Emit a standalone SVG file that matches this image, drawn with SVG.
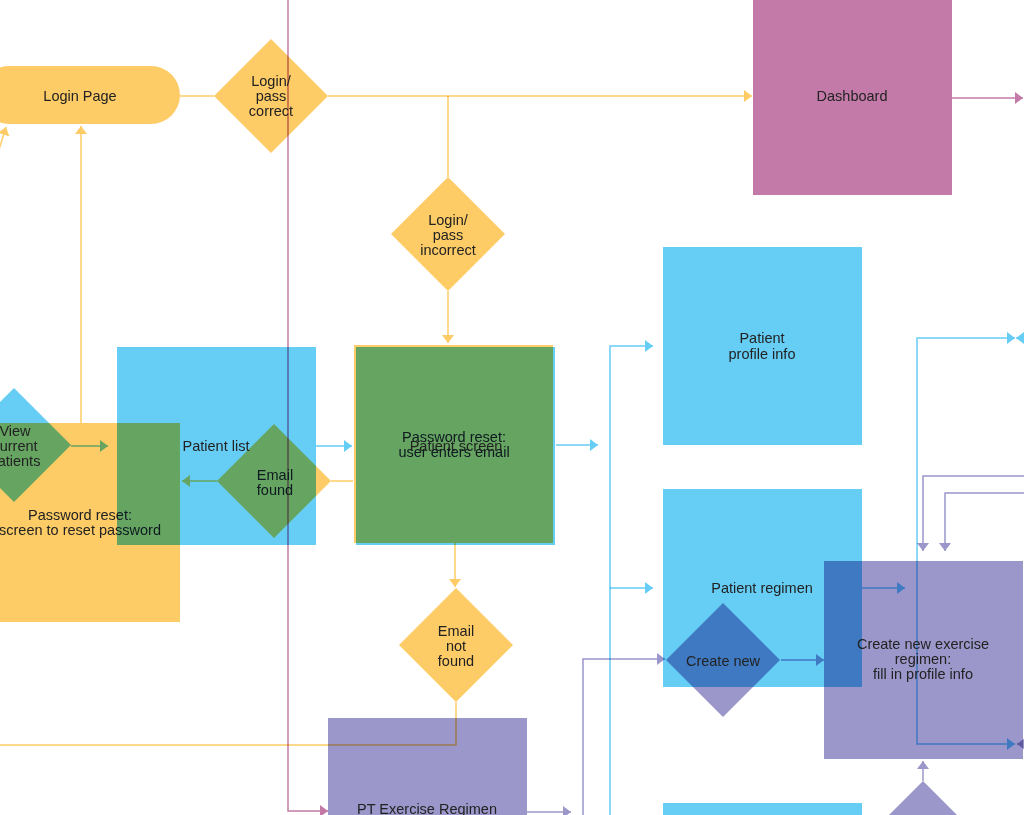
<svg xmlns="http://www.w3.org/2000/svg" width="1024" height="815" viewBox="0 0 1024 815">
<style>
  .m { mix-blend-mode: multiply; }
  .y { fill: #FECC66; }
  .b { fill: #66CDF5; }
  .p { fill: #9B97CA; }
  .k { fill: #C47AA8; }
  .ly { fill: none; stroke: #FECC66; stroke-width: 1.5; mix-blend-mode: multiply; }
  .lb { fill: none; stroke: #66CDF5; stroke-width: 1.5; mix-blend-mode: multiply; }
  .lp { fill: none; stroke: #9B97CA; stroke-width: 1.5; mix-blend-mode: multiply; }
  .lk { fill: none; stroke: #C47AA8; stroke-width: 1.5; mix-blend-mode: multiply; }
  text { font-family: "Liberation Sans", Arial, sans-serif; font-size: 14.5px; fill: #222; text-anchor: middle; }
</style>
<defs>
  <marker id="ay" viewBox="0 0 8 12" refX="8" refY="6" markerWidth="8" markerHeight="12" markerUnits="userSpaceOnUse" orient="auto-start-reverse"><path d="M0,0 L8,6 L0,12 Z" fill="#FECC66"/></marker>
  <marker id="ab" viewBox="0 0 8 12" refX="8" refY="6" markerWidth="8" markerHeight="12" markerUnits="userSpaceOnUse" orient="auto-start-reverse"><path d="M0,0 L8,6 L0,12 Z" fill="#66CDF5"/></marker>
  <marker id="ap" viewBox="0 0 8 12" refX="8" refY="6" markerWidth="8" markerHeight="12" markerUnits="userSpaceOnUse" orient="auto-start-reverse"><path d="M0,0 L8,6 L0,12 Z" fill="#9B97CA"/></marker>
  <marker id="ak" viewBox="0 0 8 12" refX="8" refY="6" markerWidth="8" markerHeight="12" markerUnits="userSpaceOnUse" orient="auto-start-reverse"><path d="M0,0 L8,6 L0,12 Z" fill="#C47AA8"/></marker>
</defs>
<rect x="0" y="0" width="1024" height="815" fill="#FFFFFF"/>

<g id="connectors">
  <path class="ly" d="M180,96 H214"/>
  <path class="ly" d="M328,96 H752" marker-end="url(#ay)"/>
  <path class="ly" d="M448,96 V177"/>
  <path class="ly" d="M448,291 V343" marker-end="url(#ay)"/>
  <path class="ly" d="M455,543 V587" marker-end="url(#ay)"/>
  <path class="ly" d="M456,702 V745 H-5"/>
  <path class="ly" d="M353,481 H331"/>
  <path class="ly" d="M217,481 H182" marker-end="url(#ay)"/>
  <path class="ly" d="M81,423 V126" marker-end="url(#ay)"/>
  <path class="ly" d="M-3,156 L6,127" marker-end="url(#ay)"/>

  <path class="lb" d="M71,446 H108" marker-end="url(#ab)"/>
  <path class="lb" d="M316,446 H352" marker-end="url(#ab)"/>
  <path class="lb" d="M556,445 H598" marker-end="url(#ab)"/>
  <path class="lb" d="M610,820 V346 H653" marker-end="url(#ab)"/>
  <path class="lb" d="M610,588 H653" marker-end="url(#ab)"/>
  <path class="lb" d="M862,588 H905" marker-end="url(#ab)"/>
  <path class="lb" d="M1015,338 H917 V744 H1015" marker-start="url(#ab)" marker-end="url(#ab)"/>
  <path class="lb" d="M1032,338 H1016" marker-end="url(#ab)"/>

  <path class="lp" d="M583,820 V659 H665" marker-end="url(#ap)"/>
  <path class="lp" d="M781,660 H824" marker-end="url(#ap)"/>
  <path class="lp" d="M1030,476 H923 V551" marker-end="url(#ap)"/>
  <path class="lp" d="M1030,493 H945 V551" marker-end="url(#ap)"/>
  <path class="lp" d="M923,781 V761" marker-end="url(#ap)"/>
  <path class="lp" d="M527,812 H571" marker-end="url(#ap)"/>
  <path class="lp" d="M1032,744 H1017" marker-end="url(#ap)"/>

  <path class="lk" d="M288,0 V811 H328" marker-end="url(#ak)"/>
  <path class="lk" d="M952,98 H1023" marker-end="url(#ak)"/>
</g>

<g id="login-page">
  <rect class="y m" x="-20" y="66" width="200" height="58" rx="29"/>
  <text x="80" y="101">Login Page</text>
</g>
<g id="login-correct">
  <polygon class="y m" points="271,39 328,96 271,153 214,96"/>
  <text x="271" y="86">Login/</text>
  <text x="271" y="101">pass</text>
  <text x="271" y="116">correct</text>
</g>
<g id="login-incorrect">
  <polygon class="y m" points="448,177 505,234 448,291 391,234"/>
  <text x="448" y="225">Login/</text>
  <text x="448" y="240">pass</text>
  <text x="448" y="255">incorrect</text>
</g>
<g id="dashboard">
  <rect class="k m" x="753" y="-2" width="199" height="197"/>
  <text x="852" y="101">Dashboard</text>
</g>
<g id="password-reset-email">
  <rect class="y m" x="354" y="345" width="199" height="198"/>
  <text x="454" y="442">Password reset:</text>
  <text x="454" y="457">user enters email</text>
</g>
<g id="patient-screen">
  <rect class="b m" x="356" y="347" width="199" height="198"/>
  <text x="456" y="451">Patient screen</text>
</g>
<g id="email-found">
  <polygon class="y m" points="274,424 331,481 274,538 217,481"/>
  <text x="275" y="480">Email</text>
  <text x="275" y="495">found</text>
</g>
<g id="email-not-found">
  <polygon class="y m" points="456,588 513,645 456,702 399,645"/>
  <text x="456" y="636">Email</text>
  <text x="456" y="651">not</text>
  <text x="456" y="666">found</text>
</g>
<g id="password-reset-screen">
  <rect class="y m" x="-20" y="423" width="200" height="199"/>
  <text x="80" y="520">Password reset:</text>
  <text x="80" y="535">screen to reset password</text>
</g>
<g id="view-current-patients">
  <polygon class="b m" points="14,388 71,445 14,502 -43,445"/>
  <text x="15" y="436">View</text>
  <text x="15" y="451">current</text>
  <text x="15" y="466">patients</text>
</g>
<g id="patient-list">
  <rect class="b m" x="117" y="347" width="199" height="198"/>
  <text x="216" y="451">Patient list</text>
</g>
<g id="patient-profile-info">
  <rect class="b m" x="663" y="247" width="199" height="198"/>
  <text x="762" y="343">Patient</text>
  <text x="762" y="359">profile info</text>
</g>
<g id="patient-regimen">
  <rect class="b m" x="663" y="489" width="199" height="198"/>
  <text x="762" y="593">Patient regimen</text>
</g>
<g id="bottom-blue">
  <rect class="b m" x="663" y="803" width="199" height="40"/>
</g>
<g id="create-new">
  <polygon class="p m" points="723,603 780,660 723,717 666,660"/>
  <text x="723" y="666">Create new</text>
</g>
<g id="create-exercise-regimen">
  <rect class="p m" x="824" y="561" width="199" height="198"/>
  <text x="923" y="649">Create new exercise</text>
  <text x="923" y="664">regimen:</text>
  <text x="923" y="679">fill in profile info</text>
</g>
<g id="bottom-diamond">
  <polygon class="p m" points="923,781 980,838 923,895 866,838"/>
</g>
<g id="pt-exercise-regimen">
  <rect class="p m" x="328" y="718" width="199" height="160"/>
  <text x="427" y="814">PT Exercise Regimen</text>
</g>
</svg>
